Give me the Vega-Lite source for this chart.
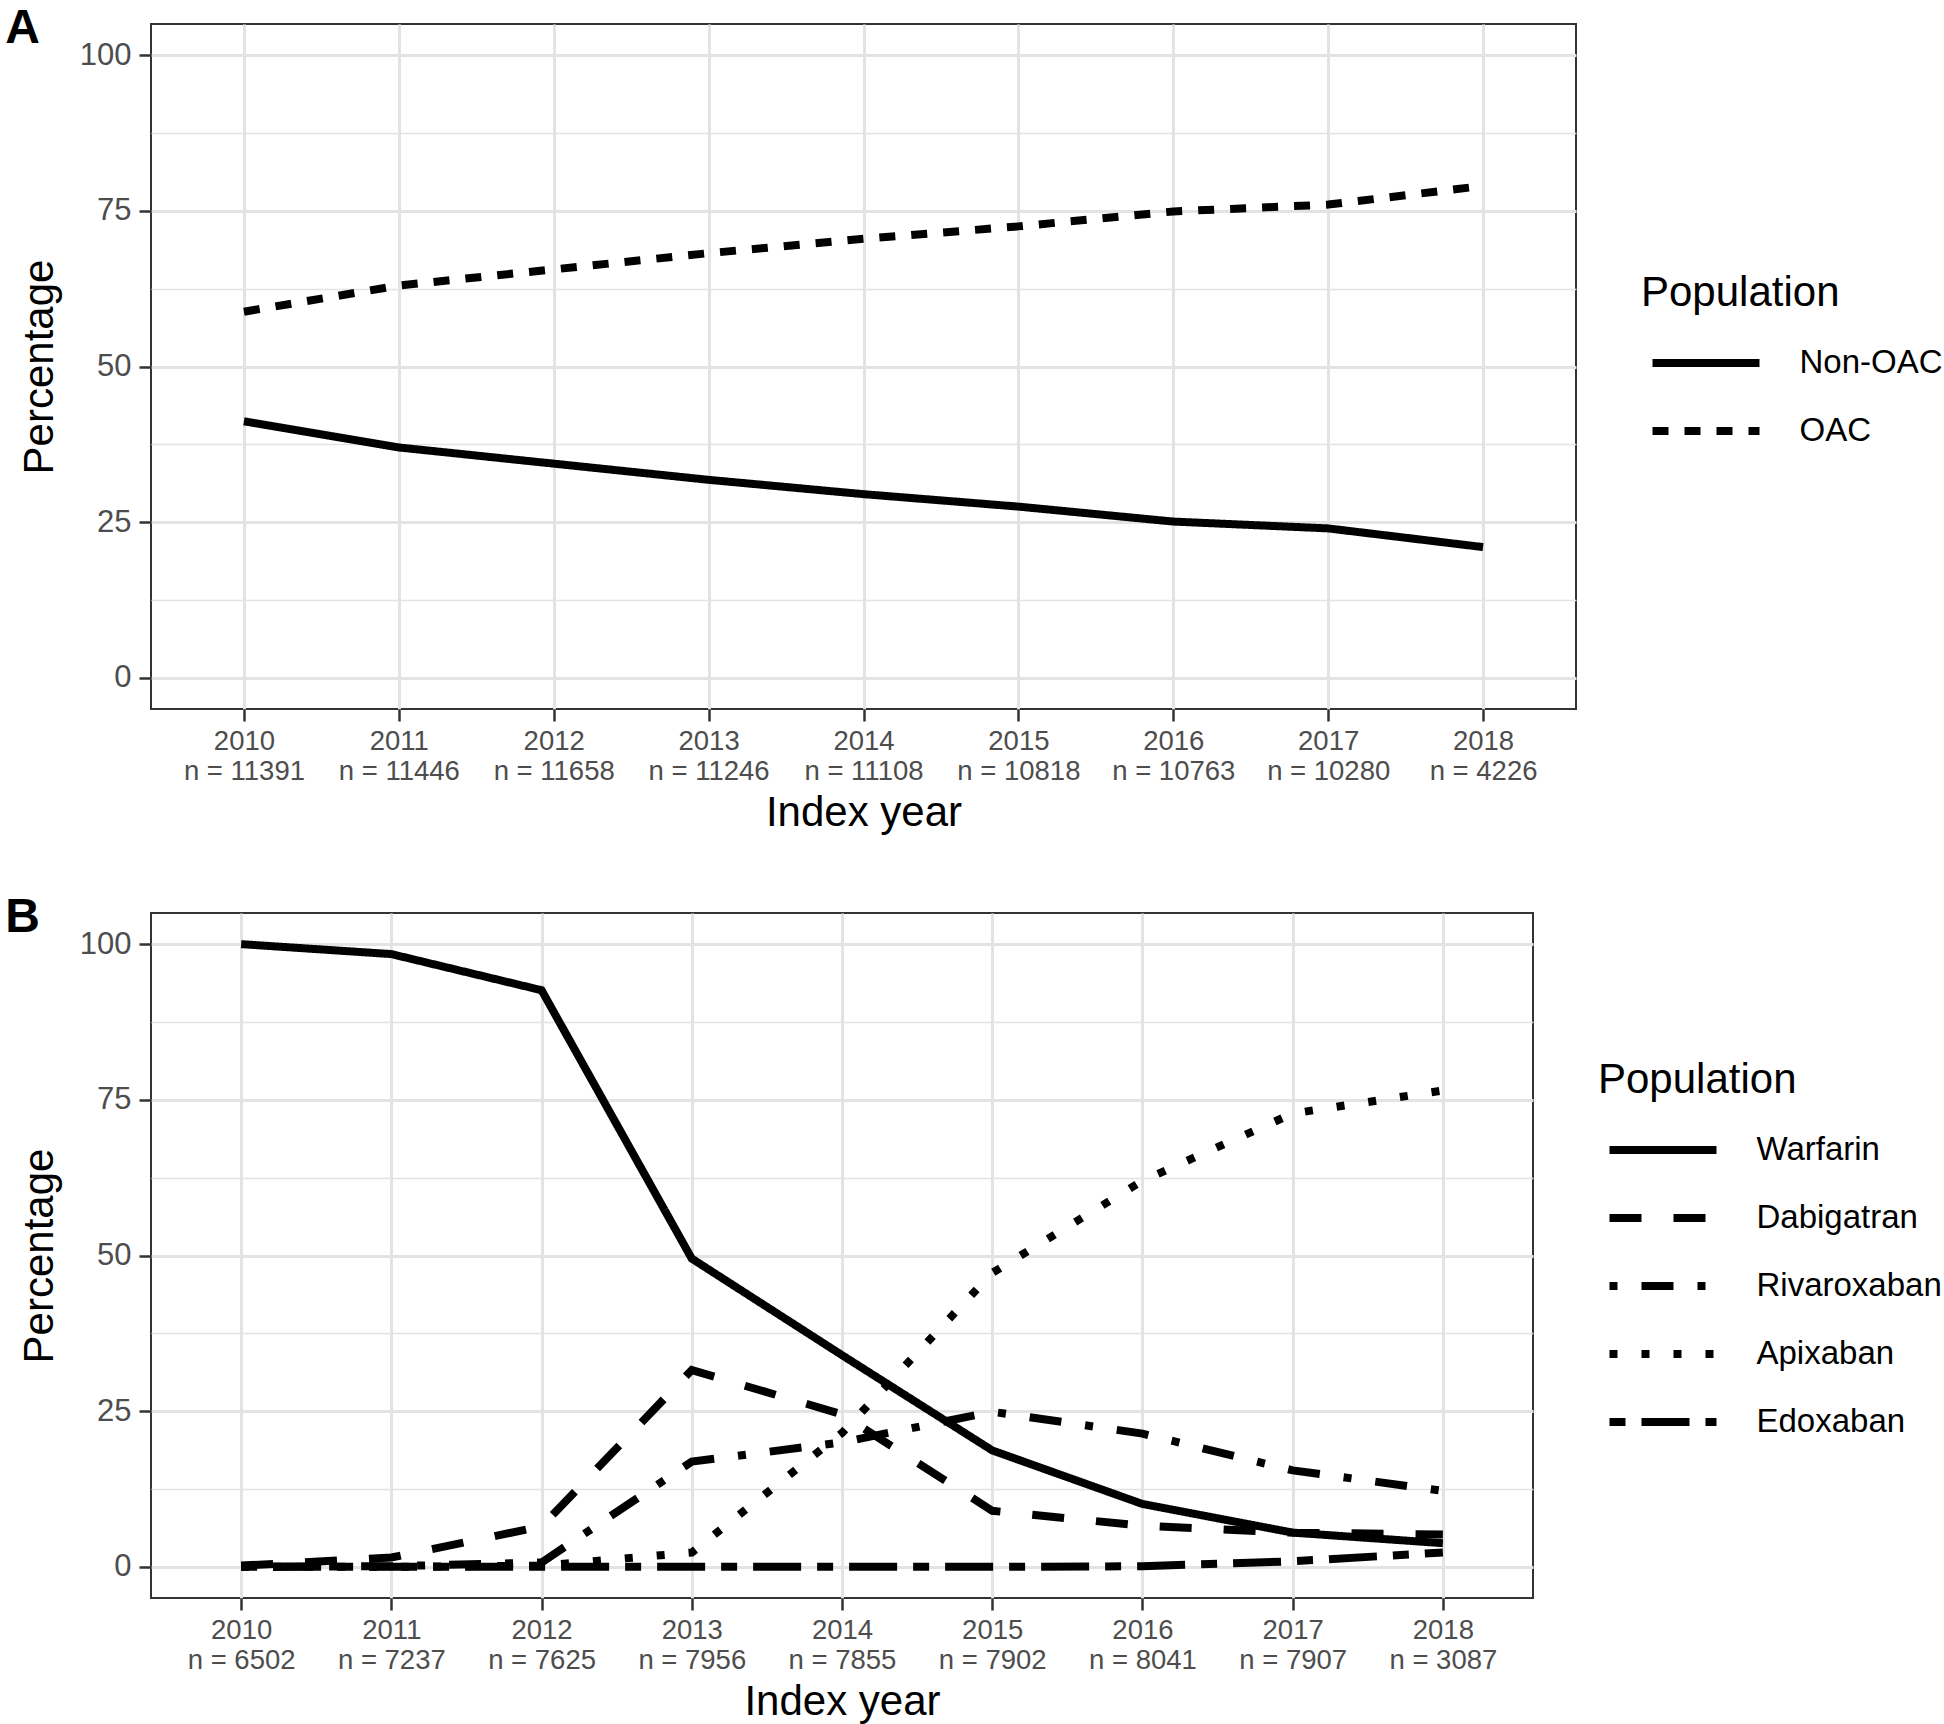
{
  "$schema": "https://vega.github.io/schema/vega-lite/v6.json",
  "background": "white",
  "padding": {"left": 4, "top": 4, "right": 0, "bottom": 0},
  "config": {
    "font": "Liberation Sans",
    "view": {"stroke": "#333333", "strokeWidth": 2},
    "concat": {"spacing": 58},
    "axis": {
      "domain": false,
      "tickColor": "#333333",
      "tickWidth": 2.5,
      "tickSize": 12,
      "labelColor": "#4D4D4D",
      "labelFont": "Liberation Sans",
      "titleFont": "Liberation Sans",
      "titleFontSize": 42,
      "titleFontWeight": "normal",
      "titleColor": "black",
      "gridColor": "#E3E3E3",
      "gridWidth": 3
    },
    "legend": {
      "orient": "none",
      "titleFont": "Liberation Sans",
      "titleFontSize": 42,
      "titleFontWeight": "normal",
      "titleColor": "black",
      "titleLimit": 1000,
      "labelFont": "Liberation Sans",
      "labelFontSize": 33,
      "labelColor": "black",
      "labelLimit": 1000,
      "symbolType": "M-4.115,0H4.115",
      "symbolStrokeColor": "black",
      "symbolStrokeWidth": 8,
      "symbolSize": 676,
      "symbolOffset": 48,
      "labelOffset": 76.5,
      "titlePadding": 31,
      "rowPadding": 34
    },
    "title": {"font": "Liberation Sans", "fontSize": 48, "fontWeight": "bold", "color": "black", "anchor": "start", "frame": "bounds"}
  },
  "datasets": {
    "a": [
      {"year": "2010\nn = 11391", "population": "Non-OAC", "percentage": 41.2},
      {"year": "2011\nn = 11446", "population": "Non-OAC", "percentage": 37.0},
      {"year": "2012\nn = 11658", "population": "Non-OAC", "percentage": 34.4},
      {"year": "2013\nn = 11246", "population": "Non-OAC", "percentage": 31.8},
      {"year": "2014\nn = 11108", "population": "Non-OAC", "percentage": 29.5},
      {"year": "2015\nn = 10818", "population": "Non-OAC", "percentage": 27.5},
      {"year": "2016\nn = 10763", "population": "Non-OAC", "percentage": 25.1},
      {"year": "2017\nn = 10280", "population": "Non-OAC", "percentage": 24.0},
      {"year": "2018\nn = 4226", "population": "Non-OAC", "percentage": 21.0},
      {"year": "2010\nn = 11391", "population": "OAC", "percentage": 58.8},
      {"year": "2011\nn = 11446", "population": "OAC", "percentage": 63.0},
      {"year": "2012\nn = 11658", "population": "OAC", "percentage": 65.6},
      {"year": "2013\nn = 11246", "population": "OAC", "percentage": 68.2},
      {"year": "2014\nn = 11108", "population": "OAC", "percentage": 70.5},
      {"year": "2015\nn = 10818", "population": "OAC", "percentage": 72.5},
      {"year": "2016\nn = 10763", "population": "OAC", "percentage": 74.9},
      {"year": "2017\nn = 10280", "population": "OAC", "percentage": 76.0},
      {"year": "2018\nn = 4226", "population": "OAC", "percentage": 79.0}
    ],
    "b": [
      {"year": "2010\nn = 6502", "population": "Warfarin", "percentage": 100.0},
      {"year": "2011\nn = 7237", "population": "Warfarin", "percentage": 98.4},
      {"year": "2012\nn = 7625", "population": "Warfarin", "percentage": 92.6},
      {"year": "2013\nn = 7956", "population": "Warfarin", "percentage": 49.5},
      {"year": "2014\nn = 7855", "population": "Warfarin", "percentage": 34.0},
      {"year": "2015\nn = 7902", "population": "Warfarin", "percentage": 18.7},
      {"year": "2016\nn = 8041", "population": "Warfarin", "percentage": 10.1},
      {"year": "2017\nn = 7907", "population": "Warfarin", "percentage": 5.5},
      {"year": "2018\nn = 3087", "population": "Warfarin", "percentage": 3.8},
      {"year": "2010\nn = 6502", "population": "Dabigatran", "percentage": 0.2},
      {"year": "2011\nn = 7237", "population": "Dabigatran", "percentage": 1.5},
      {"year": "2012\nn = 7625", "population": "Dabigatran", "percentage": 6.5},
      {"year": "2013\nn = 7956", "population": "Dabigatran", "percentage": 31.6},
      {"year": "2014\nn = 7855", "population": "Dabigatran", "percentage": 24.5},
      {"year": "2015\nn = 7902", "population": "Dabigatran", "percentage": 9.0},
      {"year": "2016\nn = 8041", "population": "Dabigatran", "percentage": 6.6},
      {"year": "2017\nn = 7907", "population": "Dabigatran", "percentage": 5.5},
      {"year": "2018\nn = 3087", "population": "Dabigatran", "percentage": 5.2},
      {"year": "2010\nn = 6502", "population": "Rivaroxaban", "percentage": 0.0},
      {"year": "2011\nn = 7237", "population": "Rivaroxaban", "percentage": 0.1},
      {"year": "2012\nn = 7625", "population": "Rivaroxaban", "percentage": 0.7},
      {"year": "2013\nn = 7956", "population": "Rivaroxaban", "percentage": 16.9},
      {"year": "2014\nn = 7855", "population": "Rivaroxaban", "percentage": 20.0},
      {"year": "2015\nn = 7902", "population": "Rivaroxaban", "percentage": 24.9},
      {"year": "2016\nn = 8041", "population": "Rivaroxaban", "percentage": 21.4},
      {"year": "2017\nn = 7907", "population": "Rivaroxaban", "percentage": 15.5},
      {"year": "2018\nn = 3087", "population": "Rivaroxaban", "percentage": 12.2},
      {"year": "2010\nn = 6502", "population": "Apixaban", "percentage": 0.0},
      {"year": "2011\nn = 7237", "population": "Apixaban", "percentage": 0.0},
      {"year": "2012\nn = 7625", "population": "Apixaban", "percentage": 0.2},
      {"year": "2013\nn = 7956", "population": "Apixaban", "percentage": 2.3},
      {"year": "2014\nn = 7855", "population": "Apixaban", "percentage": 21.5},
      {"year": "2015\nn = 7902", "population": "Apixaban", "percentage": 47.2},
      {"year": "2016\nn = 8041", "population": "Apixaban", "percentage": 62.0},
      {"year": "2017\nn = 7907", "population": "Apixaban", "percentage": 72.8},
      {"year": "2018\nn = 3087", "population": "Apixaban", "percentage": 76.5},
      {"year": "2010\nn = 6502", "population": "Edoxaban", "percentage": 0.0},
      {"year": "2011\nn = 7237", "population": "Edoxaban", "percentage": 0.0},
      {"year": "2012\nn = 7625", "population": "Edoxaban", "percentage": 0.0},
      {"year": "2013\nn = 7956", "population": "Edoxaban", "percentage": 0.0},
      {"year": "2014\nn = 7855", "population": "Edoxaban", "percentage": 0.0},
      {"year": "2015\nn = 7902", "population": "Edoxaban", "percentage": 0.0},
      {"year": "2016\nn = 8041", "population": "Edoxaban", "percentage": 0.1},
      {"year": "2017\nn = 7907", "population": "Edoxaban", "percentage": 0.9},
      {"year": "2018\nn = 3087", "population": "Edoxaban", "percentage": 2.3}
    ]
  },
  "vconcat": [
    {
      "title": {"text": "A", "offset": -20, "baseline": "alphabetic", "dx": -13, "dy": 47},
      "width": 1425,
      "height": 685,
      "data": {"name": "a"},
      "mark": {"type": "line", "strokeWidth": 8, "color": "black"},
      "encoding": {
        "x": {
          "field": "year", "type": "ordinal",
          "scale": {"type": "point", "padding": 0.6},
          "axis": {"title": "Index year", "labelExpr": "split(datum.label, '\\n')", "labelAngle": 0, "labelFontSize": 27.5, "labelLineHeight": 30, "labelPadding": 6, "titlePadding": 8, "grid": true}
        },
        "y": {
          "field": "percentage", "type": "quantitative",
          "scale": {"domain": [-5, 105], "nice": false, "zero": false},
          "axis": {
            "title": "Percentage",
            "values": [0, 12.5, 25, 37.5, 50, 62.5, 75, 87.5, 100],
            "labelExpr": "datum.value % 25 === 0 ? datum.label : ''",
            "labelFontSize": 31,
            "labelPadding": 8,
            "titlePadding": 18,
            "gridWidth": {"condition": {"test": "datum.value % 25 === 0", "value": 3}, "value": 1.5},
            "tickOpacity": {"condition": {"test": "datum.value % 25 === 0", "value": 1}, "value": 0}
          }
        },
        "strokeDash": {
          "field": "population", "type": "nominal",
          "scale": {"domain": ["Non-OAC", "OAC"], "range": [[1, 0], [16, 16]]},
          "legend": {"title": "Population", "legendX": 1490, "legendY": 249}
        }
      }
    },
    {
      "title": {"text": "B", "offset": -20, "baseline": "alphabetic", "dx": -13, "dy": 47},
      "width": 1382,
      "height": 685,
      "data": {"name": "b"},
      "mark": {"type": "line", "strokeWidth": 8, "color": "black"},
      "encoding": {
        "x": {
          "field": "year", "type": "ordinal",
          "scale": {"type": "point", "padding": 0.6},
          "axis": {"title": "Index year", "labelExpr": "split(datum.label, '\\n')", "labelAngle": 0, "labelFontSize": 27.5, "labelLineHeight": 30, "labelPadding": 6, "titlePadding": 8, "grid": true}
        },
        "y": {
          "field": "percentage", "type": "quantitative",
          "scale": {"domain": [-5, 105], "nice": false, "zero": false},
          "axis": {
            "title": "Percentage",
            "values": [0, 12.5, 25, 37.5, 50, 62.5, 75, 87.5, 100],
            "labelExpr": "datum.value % 25 === 0 ? datum.label : ''",
            "labelFontSize": 31,
            "labelPadding": 8,
            "titlePadding": 18,
            "gridWidth": {"condition": {"test": "datum.value % 25 === 0", "value": 3}, "value": 1.5},
            "tickOpacity": {"condition": {"test": "datum.value % 25 === 0", "value": 1}, "value": 0}
          }
        },
        "strokeDash": {
          "field": "population", "type": "nominal",
          "scale": {"domain": ["Warfarin", "Dabigatran", "Rivaroxaban", "Apixaban", "Edoxaban"], "range": [[1, 0], [32, 32], [8, 24, 32, 24], [8, 24], [16, 16, 48, 16]]},
          "legend": {"title": "Population", "legendX": 1447, "legendY": 147}
        }
      }
    }
  ],
  "resolve": {"scale": {"x": "independent", "strokeDash": "independent"}, "legend": {"strokeDash": "independent"}}
}
